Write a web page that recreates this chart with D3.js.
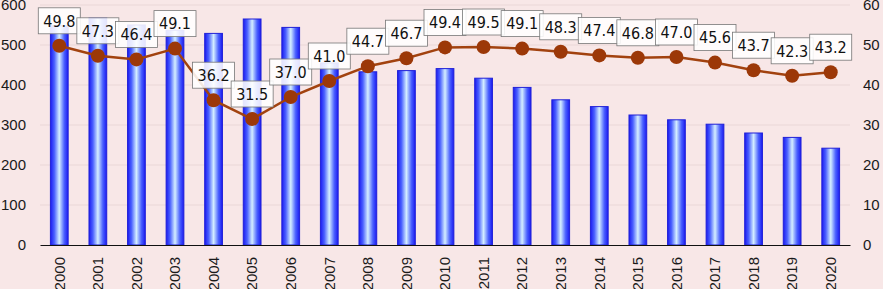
<!DOCTYPE html>
<html lang="en">
<head>
<meta charset="utf-8">
<script src="https://d3js.org/d3.v7.min.js"></script>
<style>
  body { margin: 0; background: #f8e7e7; }
  svg { display: block; font-family: "DejaVu Sans Condensed", "DejaVu Sans", sans-serif; }
</style>
</head>
<body>
<svg id="chart" width="883" height="289"></svg>
<script>
// data
const years = ["2000","2001","2002","2003","2004","2005","2006","2007","2008","2009","2010",
               "2011","2012","2013","2014","2015","2016","2017","2018","2019","2020"];
const barValues = [548, 567, 550, 537, 529, 565, 544, 455, 433, 436, 441,
                   417, 394, 363, 346, 325, 313, 302, 280, 269, 242];
const lineValues = [49.8, 47.3, 46.4, 49.1, 36.2, 31.5, 37.0, 41.0, 44.7, 46.7, 49.4,
                    49.5, 49.1, 48.3, 47.4, 46.8, 47.0, 45.6, 43.7, 42.3, 43.2];
const leftTicks = [0, 100, 200, 300, 400, 500, 600];
const rightTicks = [0, 10, 20, 30, 40, 50, 60];

const margin = {top: 5, right: 33, bottom: 44, left: 40},
    width = 883 - margin.left - margin.right,
    height = 289 - margin.top - margin.bottom;

const svg = d3.select("#chart");
const g = svg.append("g")
    .attr("transform", `translate(${margin.left},${margin.top})`);

// bar gradient
const grad = svg.append("defs").append("linearGradient")
    .attr("id", "barGrad")
    .attr("x1", "0%").attr("x2", "100%").attr("y1", "0%").attr("y2", "0%");
grad.append("stop").attr("offset", "0%").attr("stop-color", "#1a1af0");
grad.append("stop").attr("offset", "22%").attr("stop-color", "#4a60ff");
grad.append("stop").attr("offset", "50%").attr("stop-color", "#d4eeff");
grad.append("stop").attr("offset", "78%").attr("stop-color", "#4a60ff");
grad.append("stop").attr("offset", "100%").attr("stop-color", "#1a1af0");

const x = d3.scaleBand()
    .domain(years)
    .range([0, width])
    .paddingInner(0.54)
    .paddingOuter(0.27);

const yL = d3.scaleLinear().domain([0, 600]).range([height, 0]);
const yR = d3.scaleLinear().domain([0, 60]).range([height, 0]);

// gridlines
g.append("g")
  .selectAll("line")
  .data(leftTicks.slice(1))
  .join("line")
    .attr("x1", 0).attr("x2", width)
    .attr("y1", d => yL(d)).attr("y2", d => yL(d))
    .attr("stroke", "#ead7d7")
    .attr("stroke-width", 1.2);

// left axis
const axL = g.append("g")
    .call(d3.axisLeft(yL).tickValues(leftTicks).tickSize(0).tickPadding(14));
axL.select(".domain").remove();
axL.selectAll("text").attr("font-size", 15).attr("fill", "#1a1a1a");

// right axis
const axR = g.append("g")
    .attr("transform", `translate(${width},0)`)
    .call(d3.axisRight(yR).tickValues(rightTicks).tickSize(0).tickPadding(13));
axR.select(".domain").remove();
axR.selectAll("text").attr("font-size", 15).attr("fill", "#1a1a1a");

// bars
g.append("g")
  .selectAll("rect")
  .data(years.map((yr, i) => ({yr, v: barValues[i]})))
  .join("rect")
    .attr("x", d => x(d.yr))
    .attr("y", d => yL(d.v))
    .attr("width", x.bandwidth())
    .attr("height", d => height - yL(d.v))
    .attr("fill", "url(#barGrad)")
    .attr("stroke", "#2020d8")
    .attr("stroke-width", 1);

// x axis
const axB = g.append("g")
    .attr("transform", `translate(0,${height})`)
    .call(d3.axisBottom(x).tickSize(0).tickPadding(0));
axB.select(".domain").attr("stroke", "#111").attr("stroke-width", 1.2);
axB.selectAll("text")
    .attr("font-size", 15)
    .attr("fill", "#1a1a1a")
    .style("text-anchor", "end")
    .attr("transform", "rotate(-90)")
    .attr("x", -12)
    .attr("y", 0)
    .attr("dy", "0.35em");

// line
const pts = years.map((yr, i) => ({yr, v: lineValues[i]}));
const cx = d => x(d.yr) + x.bandwidth() / 2;

g.append("path")
    .datum(pts)
    .attr("fill", "none")
    .attr("stroke", "#a2420f")
    .attr("stroke-width", 2.5)
    .attr("d", d3.line().x(cx).y(d => yR(d.v)));

g.append("g")
  .selectAll("circle")
  .data(pts)
  .join("circle")
    .attr("cx", cx)
    .attr("cy", d => yR(d.v))
    .attr("r", 7)
    .attr("fill", "#9c3808");

// value labels
const lab = g.append("g")
  .selectAll("g")
  .data(pts)
  .join("g")
    .attr("transform", d => `translate(${cx(d)},${yR(d.v) - 25})`);

lab.append("rect")
    .attr("x", -21).attr("y", -13)
    .attr("width", 42).attr("height", 26)
    .attr("fill", "#ffffff")
    .attr("fill-opacity", 0.88)
    .attr("stroke", "#777")
    .attr("stroke-width", 0.8);

lab.append("text")
    .attr("text-anchor", "middle")
    .attr("dy", "0.36em")
    .attr("font-size", 16)
    .attr("fill", "#111")
    .text(d => d.v.toFixed(1));
</script>
</body>
</html>
